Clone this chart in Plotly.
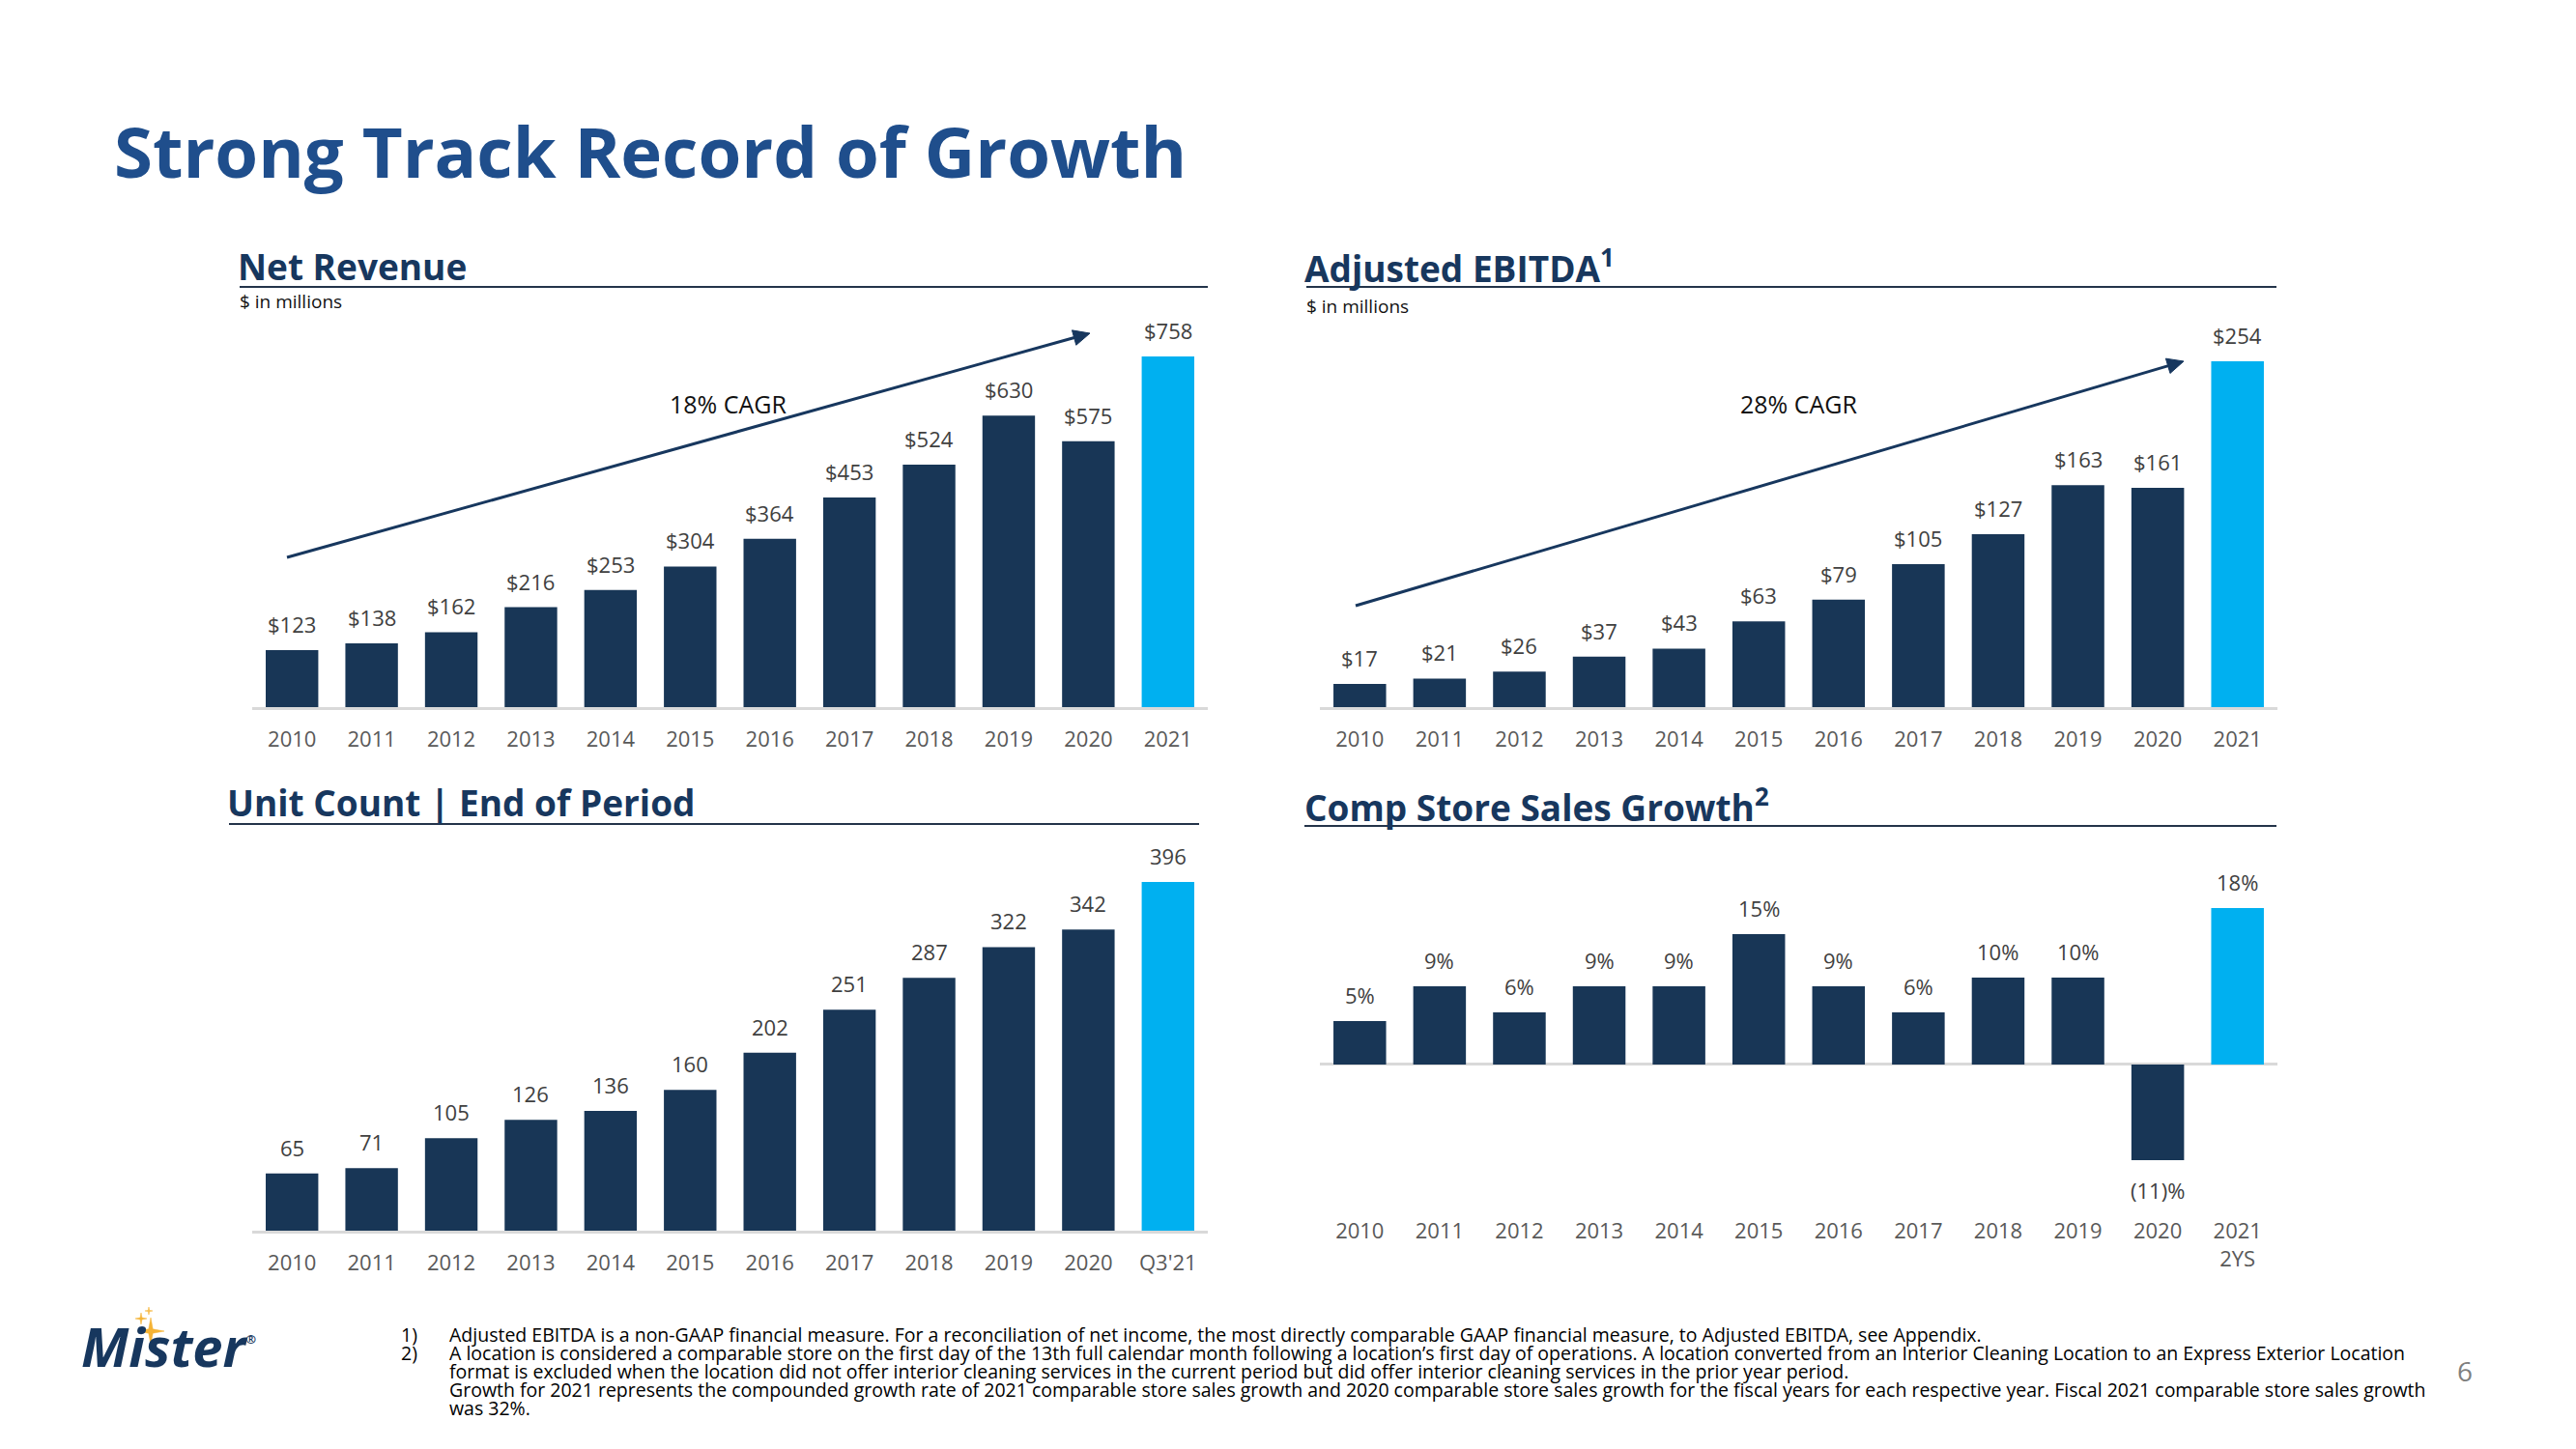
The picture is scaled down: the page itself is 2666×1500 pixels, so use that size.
import math
import plotly.graph_objects as go

# ---------------- data ----------------
years = ["2010", "2011", "2012", "2013", "2014", "2015", "2016", "2017", "2018", "2019", "2020", "2021"]
unit_periods = ["2010", "2011", "2012", "2013", "2014", "2015", "2016", "2017", "2018", "2019", "2020", "Q3'21"]
comp_periods = ["2010", "2011", "2012", "2013", "2014", "2015", "2016", "2017", "2018", "2019", "2020", "2021<br>2YS"]

net_revenue = [123, 138, 162, 216, 253, 304, 364, 453, 524, 630, 575, 758]
adj_ebitda = [17, 21, 26, 37, 43, 63, 79, 105, 127, 163, 161, 254]
unit_count = [65, 71, 105, 126, 136, 160, 202, 251, 287, 322, 342, 396]
comp_growth = [5, 9, 6, 9, 9, 15, 9, 6, 10, 10, -11, 18]

foot_numbers = ["1)", "2)"]
foot_lines = [
    "Adjusted EBITDA is a non-GAAP financial measure. For a reconciliation of net income, the most directly comparable GAAP financial measure, to Adjusted EBITDA, see Appendix.",
    "A location is considered a comparable store on the first day of the 13th full calendar month following a location’s first day of operations. A location converted from an Interior Cleaning Location to an Express Exterior Location",
    "format is excluded when the location did not offer interior cleaning services in the current period but did offer interior cleaning services in the prior year period.",
    "Growth for 2021 represents the compounded growth rate of 2021 comparable store sales growth and 2020 comparable store sales growth for the fiscal years for each respective year. Fiscal 2021 comparable store sales growth",
    "was 32%.",
]

# ---------------- styling ----------------
W, H = 2666, 1500
NAVY = "#183656"
LIGHT = "#00B0F0"
TITLE_BLUE = "#1F4E8C"
HEAD = "#17375E"
LABEL = "#404040"
TICK = "#595959"
GOLD = "#F5B335"
FONT = "Open Sans"


def px(x):
    return x / W


def py(y):
    return 1 - y / H


def colors(n):
    return [NAVY] * (n - 1) + [LIGHT]


fig = go.Figure()

panels = [
    ("", years, net_revenue, ["$%d" % v for v in net_revenue], (261, 1250), (340, 732), [0, 818.6]),
    ("2", years, adj_ebitda, ["$%d" % v for v in adj_ebitda], (1366, 2357), (340, 732), [0, 278.1]),
    ("3", unit_periods, unit_count, ["%d" % v for v in unit_count], (261, 1250), (880, 1274), [0, 432.2]),
    ("4", comp_periods, comp_growth, [("%d%%" % v) if v >= 0 else ("(%d)%%" % -v) for v in comp_growth],
     (1366, 2357), (880, 1245), [-15.9, 24.67]),
]

annotations = []
for suf, cats, vals, labs, (x0, x1), (ytop, ybot), yr in panels:
    xa = "x" + suf
    ya = "y" + suf
    fig.add_trace(go.Bar(
        x=cats, y=vals, xaxis=xa, yaxis=ya,
        marker=dict(color=colors(len(vals)), line=dict(width=0)),
        width=0.66, showlegend=False, hoverinfo="skip",
    ))
    is_comp = suf == "4"
    fig.layout["xaxis" + suf] = dict(
        domain=[px(x0), px(x1)], anchor=ya, type="category",
        showline=not is_comp, linecolor="#D9D9D9", linewidth=3,
        showgrid=False, zeroline=False,
        ticks="outside", ticklen=10 if is_comp else 12, tickcolor="rgba(0,0,0,0)",
        tickfont=dict(family=FONT, size=22, color=TICK),
        range=[-0.5, len(cats) - 0.5], fixedrange=True,
    )
    fig.layout["yaxis" + suf] = dict(
        domain=[py(ybot), py(ytop)], anchor=xa, range=yr,
        showticklabels=False, showgrid=False, showline=False,
        zeroline=is_comp, zerolinecolor="#D9D9D9", zerolinewidth=3,
        fixedrange=True,
    )
    for i, (v, t) in enumerate(zip(vals, labs)):
        annotations.append(dict(
            x=i, y=v, xref=xa, yref=ya, text=t, showarrow=False,
            yanchor="bottom" if v >= 0 else "top",
            yshift=10 if v >= 0 else -14,
            font=dict(family=FONT, size=22, color=LABEL),
        ))


def text(x, y, t, size, color, bold=False, xanchor="left", yanchor="middle", italic=False, family=FONT,
         align="left"):
    s = t
    if bold:
        s = "<b>" + s + "</b>"
    if italic:
        s = "<i>" + s + "</i>"
    annotations.append(dict(x=px(x), y=py(y), xref="paper", yref="paper", text=s, showarrow=False,
                            xanchor=xanchor, yanchor=yanchor, align=align,
                            font=dict(family=family, size=size, color=color)))


text(116, 156, "Strong Track Record of Growth", 72.5, TITLE_BLUE, bold=True)

text(244, 276, "Net Revenue", 37, HEAD, bold=True)
text(1348, 276, "Adjusted EBITDA<sup>1</sup>", 37, HEAD, bold=True)
text(233, 830, "Unit Count | End of Period", 37, HEAD, bold=True)
text(1348, 833, "Comp Store Sales Growth<sup>2</sup>", 37, HEAD, bold=True)

text(246, 312, "$ in millions", 19, "#111111")
text(1350, 317, "$ in millions", 19, "#111111")

text(753, 418, "18% CAGR", 25, "#111111", xanchor="center")
text(1861, 418, "28% CAGR", 25, "#111111", xanchor="center")

shapes = []


def arrow(tx, ty, hx, hy, color=HEAD, width=3, head_len=17, head_half=8):
    dx, dy = hx - tx, hy - ty
    L = math.hypot(dx, dy)
    ux, uy = dx / L, dy / L
    bx, by = hx - ux * head_len, hy - uy * head_len
    shapes.append(dict(type="line", xref="paper", yref="paper",
                       x0=px(tx), y0=py(ty), x1=px(bx + ux * 4), y1=py(by + uy * 4),
                       line=dict(color=color, width=width)))
    nx, ny = -uy, ux
    p2 = (bx + nx * head_half, by + ny * head_half)
    p3 = (bx - nx * head_half, by - ny * head_half)
    path = "M %f %f L %f %f L %f %f Z" % (px(hx), py(hy), px(p2[0]), py(p2[1]), px(p3[0]), py(p3[1]))
    shapes.append(dict(type="path", xref="paper", yref="paper", path=path,
                       fillcolor=color, line=dict(color=color, width=1)))


arrow(297, 577, 1128, 345)
arrow(1403, 627, 2260, 374)

for (x0, x1, y) in [(248, 1250, 297), (1352, 2356, 297), (237, 1241, 853), (1350, 2356, 855)]:
    shapes.append(dict(type="line", xref="paper", yref="paper", x0=px(x0), x1=px(x1), y0=py(y), y1=py(y),
                       line=dict(color="#24344A", width=2)))

# footnotes: one block each, tight line spacing (line pitch = 1.3 x block font size)
FOOT_PITCH = 19
block_size = FOOT_PITCH / 1.3
span = "<span style='font-size:19.5px'>%s</span>"
foot_block = "<br>".join(span % t for t in foot_lines)
num_block = "<br>".join(span % t for t in foot_numbers)
text(463, 1366, foot_block, block_size, "#000000", yanchor="top")
text(413, 1366, num_block, block_size, "#000000", yanchor="top")

text(2551, 1419, "6", 28, "#7F7F7F", xanchor="center")

# logo: wordmark + sparkle stars (drawn as shapes)
text(82, 1393, "Mister<sup><span style='font-size:13px'>®</span></sup>", 56, HEAD, bold=True, italic=True)


def star(cx, cy, r):
    k = 0.22
    pts = []
    for a in range(8):
        ang = math.pi / 2 + a * math.pi / 4
        rr = r if a % 2 == 0 else r * k
        pts.append((cx + rr * math.cos(ang), cy - rr * math.sin(ang)))
    path = "M " + " L ".join("%f %f" % (px(x), py(y)) for x, y in pts) + " Z"
    shapes.append(dict(type="path", xref="paper", yref="paper", path=path,
                       fillcolor=GOLD, line=dict(color=GOLD, width=0.5)))


star(156, 1378, 14)
star(146, 1365, 6)
star(154, 1357, 4)

fig.update_layout(
    width=W, height=H, margin=dict(l=0, r=0, t=0, b=0),
    paper_bgcolor="white", plot_bgcolor="white",
    annotations=annotations, shapes=shapes, bargap=0.35,
    font=dict(family=FONT),
)

fig.write_html("out.html", config={"displayModeBar": False},
               post_script="document.body.style.margin='0';document.body.style.overflow='hidden';")
